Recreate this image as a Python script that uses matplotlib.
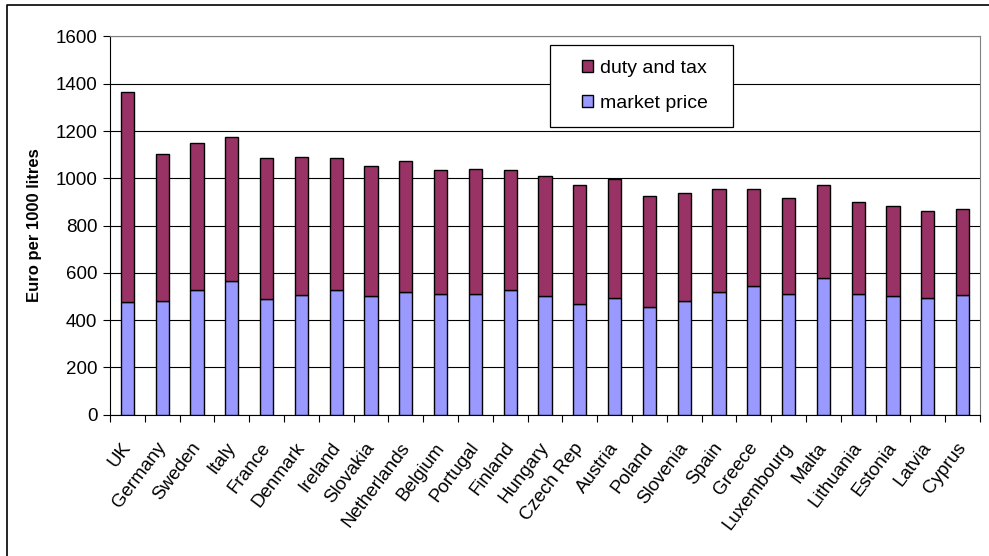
import numpy as np
import matplotlib.pyplot as plt
from matplotlib.lines import Line2D
from matplotlib.patches import Rectangle

plt.rcParams['font.family'] = ['Liberation Sans', 'DejaVu Sans']

countries = ['UK', 'Germany', 'Sweden', 'Italy', 'France', 'Denmark', 'Ireland',
             'Slovakia', 'Netherlands', 'Belgium', 'Portugal', 'Finland', 'Hungary',
             'Czech Rep', 'Austria', 'Poland', 'Slovenia', 'Spain', 'Greece',
             'Luxembourg', 'Malta', 'Lithuania', 'Estonia', 'Latvia', 'Cyprus']
# market price and total (market price + duty and tax), euro per 1000 litres
market_price = [476, 481, 527, 565, 488, 508, 527, 501, 520, 511, 511, 527, 501,
                469, 494, 456, 481, 520, 545, 512, 577, 512, 501, 494, 507]
total = [1365, 1104, 1149, 1175, 1086, 1091, 1086, 1053, 1073, 1035, 1040, 1035,
         1009, 971, 997, 926, 938, 953, 953, 915, 971, 900, 882, 862, 869]
duty_tax = [t - m for t, m in zip(total, market_price)]

fig = plt.figure(figsize=(9.89, 5.56), dpi=100)
ax = fig.add_axes([0.1112, 0.2541, 0.8797, 0.6803])

# chart frame (left and top edges)
fig.lines.append(Line2D([7 / 989, 7 / 989, 1.0], [0.0, 1 - 5 / 556, 1 - 5 / 556],
                        transform=fig.transFigure, color='black', linewidth=1.2))

x = np.arange(len(countries))
w = 0.38
b1 = ax.bar(x, market_price, w, color='#9999FF', edgecolor='black',
            linewidth=1.0, label='market price', zorder=3)
b2 = ax.bar(x, duty_tax, w, bottom=market_price, color='#993366',
            edgecolor='black', linewidth=1.0, label='duty and tax', zorder=3)

ax.set_xlim(-0.5, len(countries) - 0.5)
ax.set_ylim(0, 1600)
ax.set_yticks(np.arange(0, 1601, 200))
ax.yaxis.grid(True, color='black', linewidth=0.8, zorder=0)
ax.tick_params(axis='y', direction='out', length=5, labelsize=13.5, pad=4)

# category ticks sit between the bars
ax.set_xticks(np.arange(-0.5, len(countries), 1))
ax.set_xticklabels([])
ax.tick_params(axis='x', direction='out', length=5)
for i, c in enumerate(countries):
    ax.text(i - 0.18, -105, c, rotation=53, ha='right', va='top',
            rotation_mode='anchor', fontsize=13.5)

for s in ['top', 'right']:
    ax.spines[s].set_color('#808080')
for s in ['left', 'bottom']:
    ax.spines[s].set_color('black')

ax.set_ylabel('Euro per 1000 litres', fontsize=12, fontweight='bold', labelpad=10)

# legend box drawn separately so the padding can be wider than tall
ax.add_patch(Rectangle((0.5057, 0.761), 0.2103, 0.217, transform=ax.transAxes,
                       facecolor='white', edgecolor='black', linewidth=0.9,
                       zorder=5))
leg = ax.legend(handles=[b2, b1], loc='center', bbox_to_anchor=(0.615, 0.8695),
                fontsize=14, frameon=False, handlelength=0.55,
                handleheight=0.55, handletextpad=0.35, labelspacing=0.95,
                borderpad=0, borderaxespad=0)
leg.set_zorder(6)

fig.savefig('out.png', dpi=100)
